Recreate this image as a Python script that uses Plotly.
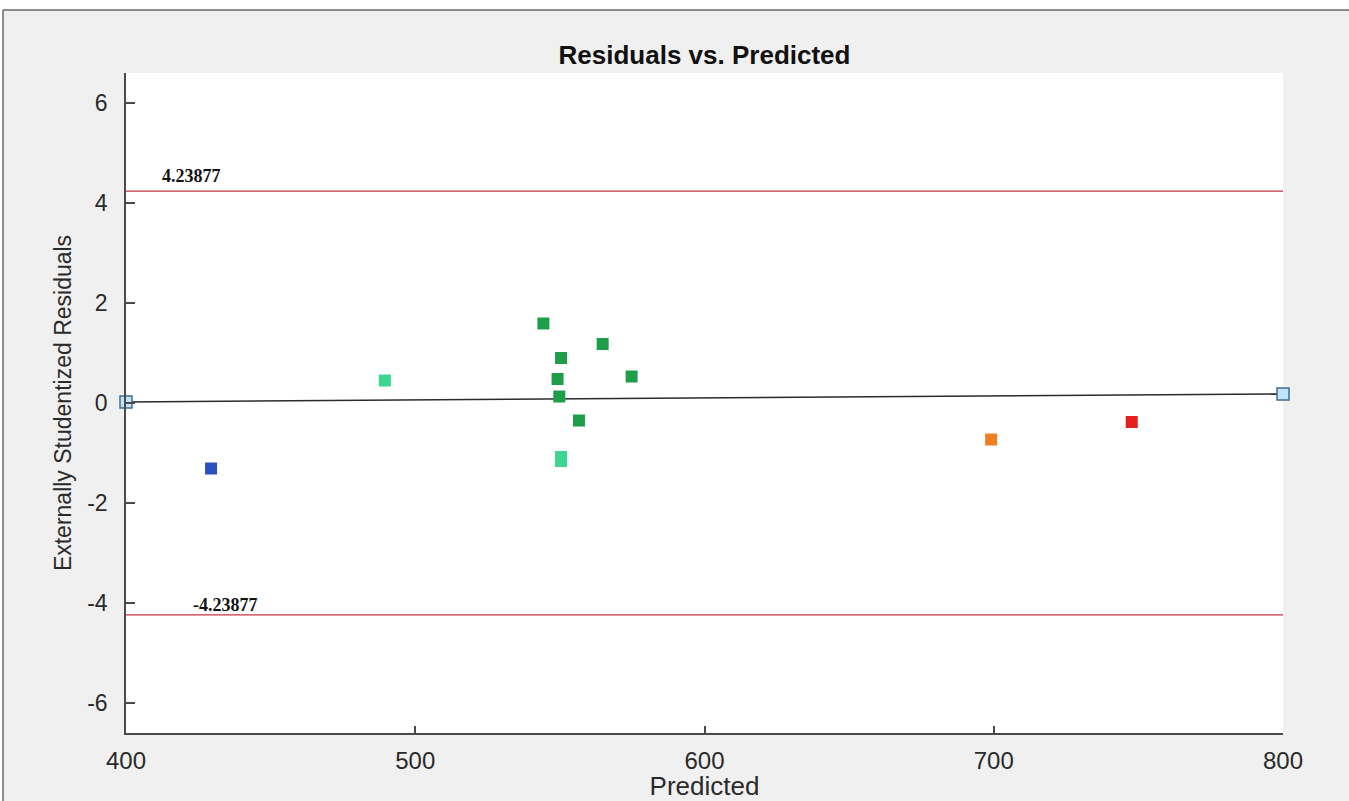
import plotly.graph_objects as go

# Run data: predicted response vs externally studentized residual
predicted = [429.4, 489.5, 544.3, 564.8, 550.4, 549.2, 574.8, 549.8, 556.6, 550.4, 550.4, 699.1, 747.7]
residuals = [-1.31, 0.45, 1.59, 1.18, 0.90, 0.48, 0.53, 0.13, -0.35, -1.08, -1.16, -0.73, -0.38]
point_colors = ["#2a4fbf", "#3cd690", "#1f9e4a", "#1f9e4a", "#1f9e4a", "#1f9e4a", "#1f9e4a",
                "#1f9e4a", "#1f9e4a", "#3cd690", "#3cd690", "#f07e22", "#e41f1f"]

# Fitted trend of residuals across the predicted range
trend_x = [400, 800]
trend_y = [0.02, 0.18]

# Outlier limits
limit = 4.23877
limit_labels = ["4.23877", "-4.23877"]

x_ticks = [400, 500, 600, 700, 800]
y_ticks = [-6, -4, -2, 0, 2, 4, 6]
y_tick_text = ["-6", "-4", "-2", "0", "2", "4", "6"]

W, H = 1349, 801
ML, MR, MT, MB = 126, 66, 73, 68
pw, ph = W - ML - MR, H - MT - MB

fig = go.Figure()

fig.add_trace(go.Scatter(
    x=trend_x, y=trend_y, mode="lines+markers",
    line=dict(color="#2b2b2b", width=1.5),
    marker=dict(symbol="square", size=12, color="#bfe4fa",
                line=dict(color="#3f6f8f", width=1.5)),
    cliponaxis=False, hoverinfo="skip", showlegend=False,
))

fig.add_trace(go.Scatter(
    x=predicted, y=residuals, mode="markers",
    marker=dict(symbol="square", size=12, color=point_colors, line=dict(width=0)),
    showlegend=False,
))

# Limit lines
for v in (limit, -limit):
    fig.add_shape(type="line", xref="paper", x0=0, x1=1, yref="y", y0=v, y1=v,
                  line=dict(color="#c3353f", width=1.2))

serif = "Liberation Serif, Times New Roman, serif"
fig.add_annotation(x=411.8, y=limit, text="<b>%s</b>" % limit_labels[0], showarrow=False,
                   xanchor="left", yanchor="middle", yshift=15,
                   font=dict(family=serif, size=18, color="#111"))
fig.add_annotation(x=422.5, y=-limit, text="<b>%s</b>" % limit_labels[1], showarrow=False,
                   xanchor="left", yanchor="middle", yshift=10,
                   font=dict(family=serif, size=18, color="#111"))

# Figure frame: white outside, grey panel with a dark border line
bx = (3 - ML) / pw
by = (H - MB - 10) / ph
fig.add_shape(type="rect", xref="paper", yref="paper", x0=-1, x1=bx, y0=-2, y1=3,
              fillcolor="white", line=dict(width=0), layer="below")
fig.add_shape(type="rect", xref="paper", yref="paper", x0=-1, x1=3, y0=by, y1=3,
              fillcolor="white", line=dict(width=0), layer="below")
fig.add_shape(type="line", xref="paper", yref="paper", x0=bx, x1=bx, y0=-2, y1=by,
              line=dict(color="#6a6a6a", width=1.5))
fig.add_shape(type="line", xref="paper", yref="paper", x0=bx, x1=3, y0=by, y1=by,
              line=dict(color="#6a6a6a", width=1.5))

sans = "Liberation Sans, Arial, sans-serif"
fig.update_layout(
    width=W, height=H,
    margin=dict(l=ML, r=MR, t=MT, b=MB, autoexpand=False),
    paper_bgcolor="#f0f0f0", plot_bgcolor="white",
    title=dict(text="<b>Residuals vs. Predicted</b>", x=0.5, xref="paper",
               y=1 - 55 / H, yref="container", xanchor="center", yanchor="middle",
               font=dict(family=sans, size=26, color="#111")),
    xaxis=dict(range=[400, 800], tickvals=x_ticks, showgrid=False, zeroline=False,
               showline=True, linecolor="#4a4a4a", linewidth=1.5,
               ticks="inside", ticklen=7, tickcolor="#4a4a4a", tickwidth=1.5,
               tickfont=dict(family=sans, size=24, color="#2a2a2a"), ticklabelstandoff=5,
               title=dict(text="Predicted", font=dict(family=sans, size=26, color="#2a2a2a"),
                          standoff=3),
               automargin=False),
    yaxis=dict(range=[-6.6, 6.6], tickvals=y_ticks, ticktext=y_tick_text, showgrid=False,
               zeroline=False, showline=True, linecolor="#4a4a4a", linewidth=1.5,
               ticks="inside", ticklen=9, tickcolor="#4a4a4a", tickwidth=1.5,
               tickfont=dict(family=sans, size=23, color="#2a2a2a"), ticklabelstandoff=12,
               title=dict(text="Externally Studentized Residuals",
                          font=dict(family=sans, size=23, color="#2a2a2a"), standoff=9),
               automargin=False),
)

fig.write_html("out.html")
